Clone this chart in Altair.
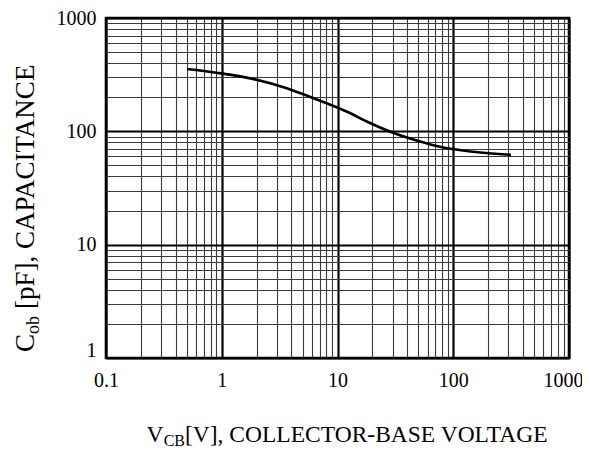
import altair as alt
import pandas as pd

# Capacitance curve
vcb = [0.5, 0.9, 1.86, 3.64, 6.14, 12.8, 17.9, 29.4, 50, 76.7, 150, 315]
cob = [355, 329, 290, 240, 197, 145, 122, 98, 82, 73, 66, 62]

# Grid / tick values
x_ticks = [m * 10.0 ** e for e in range(-1, 3) for m in range(1, 10)] + [1000]
y_ticks = [m * 10.0 ** e for e in range(0, 3) for m in range(1, 10)] + [1000]

FONT = "Liberation Serif, Times New Roman, Times, serif"
df = pd.DataFrame({"V": vcb, "C": cob})

decade = "abs(log(datum.value)/LN10 - round(log(datum.value)/LN10)) < 1e-6"
grid_w = {"condition": {"test": decade, "value": 2.2}, "value": 1.1}
grid_c = {"condition": {"test": decade, "value": "#000000"}, "value": "#3a3a3a"}

line = alt.Chart(df).mark_line(color="black", strokeWidth=2.6, interpolate="monotone").encode(
    x=alt.X("V:Q", scale=alt.Scale(type="log", domain=[0.1, 1000], nice=False),
            axis=alt.Axis(values=x_ticks, format="~g", title=None, ticks=False, domain=False,
                          labelExpr=f"({decade}) ? datum.label : ''",
                          labelFont=FONT, labelFontSize=20, labelColor="black",
                          labelOffset={"condition": {"test": "datum.value >= 999", "value": -6}, "value": 0},
                          labelPadding=12, labelFlush=False, labelOverlap=False,
                          grid=True, gridWidth=grid_w, gridColor=grid_c, gridOpacity=1)),
    y=alt.Y("C:Q", scale=alt.Scale(type="log", domain=[1, 1000], nice=False),
            axis=alt.Axis(values=y_ticks, format="~g", title=None, ticks=False, domain=False,
                          labelExpr=f"({decade}) ? datum.label : ''",
                          labelFont=FONT, labelFontSize=20, labelColor="black",
                          labelOffset={"condition": {"test": "datum.value < 1.5", "value": -8}, "value": 0},
                          labelPadding=10, labelFlush=False, labelOverlap=False,
                          grid=True, gridWidth=grid_w, gridColor=grid_c, gridOpacity=1)),
)

one = alt.Data(values=[{"a": 1}])

def txt(s, x, y, size, align="left", angle=0):
    return alt.Chart(one).mark_text(text=s, font=FONT, fontSize=size, color="black",
                                    align=align, baseline="alphabetic", angle=angle).encode(
        x=alt.value(x), y=alt.value(y))

# x title: V_CB[V], COLLECTOR-BASE VOLTAGE
xt_main = txt("[V], COLLECTOR-BASE VOLTAGE", 79, 424, 23.5)
xt_sub = txt("CB", 79, 427.5, 16, align="right")
xt_v = txt("V", 57.5, 424, 23.5, align="right")

# y title: C_ob [pF], CAPACITANCE (rotated)
yt_c = txt("C", -72, 334, 27, angle=270)
yt_sub = txt("ob", -67, 316, 18, angle=270)
yt_main = txt("[pF], CAPACITANCE", -72, 291, 27, angle=270)

chart = alt.layer(line, xt_main, xt_sub, xt_v, yt_c, yt_sub, yt_main).properties(
    width=463, height=340,
    autosize=alt.AutoSizeParams(type="none"),
    padding={"left": 98, "top": 10, "right": 13, "bottom": 91},
    background="white",
).configure_view(stroke="black", strokeWidth=2.6)

chart.save("out.html", embed_options={"renderer": "svg", "actions": False})
